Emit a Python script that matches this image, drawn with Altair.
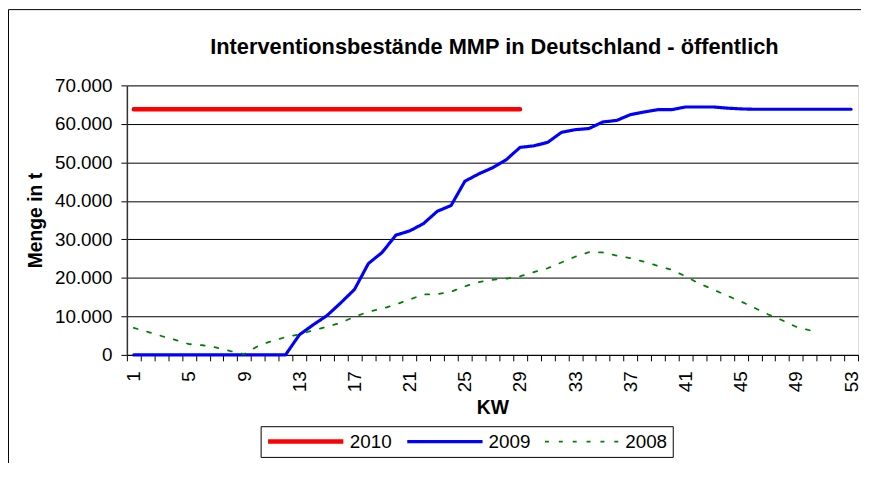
import altair as alt
import pandas as pd

FONT = "Liberation Sans"

kw = list(range(1, 54))
series_order = ["2010", "2009", "2008"]
title_text = "Interventionsbestände MMP in Deutschland - öffentlich"

v2010 = [63800, 63800, 63800, 63800, 63800, 63800, 63800, 63800, 63800, 63800,
         63800, 63800, 63800, 63800, 63800, 63800, 63800, 63800, 63800, 63800,
         63800, 63800, 63800, 63800, 63800, 63800, 63800, 63800, 63800]

v2009 = [0, 0, 0, 0, 0, 0, 0, 0, 0, 0,
         0, 0, 5200, 7800, 10200, 13500, 17000, 23700, 26600, 31100,
         32200, 34100, 37300, 38800, 45100, 47000, 48600, 50700, 53900, 54300,
         55200, 57800, 58500, 58800, 60500, 60900, 62400, 63100, 63700, 63700,
         64400, 64400, 64400, 64100, 63900, 63800, 63800, 63800, 63800, 63800,
         63800, 63800, 63800]

v2008 = [7000, 6000, 4900, 3900, 2800, 2500, 1900, 1000, 200, 2300,
         3600, 4600, 5300, 6400, 7300, 8350, 9900, 11200, 12000, 13100,
         14400, 15700, 15800, 16400, 17800, 18900, 19500, 19800, 20400, 21500,
         22500, 24000, 25500, 26700, 26600, 25800, 25100, 24200, 23100, 22100,
         20400, 18500, 17000, 15400, 13900, 12200, 10500, 9000, 7300, 6400]

y_ticks = [0, 10000, 20000, 30000, 40000, 50000, 60000, 70000]
x_label_every = 4

rows = []
for name, vals in (("2010", v2010), ("2009", v2009), ("2008", v2008)):
    for k, v in zip(kw, vals):
        rows.append({"KW": k, "Menge": v, "Serie": name})
df = pd.DataFrame(rows)

PL, PT = 120, 76
W, H = 738, 272
half_steps = [k - 0.5 for k in kw] + [kw[-1] + 0.5]

legend = alt.Legend(
    orient="none", legendX=263 - 8 - PL, legendY=428 - 8 - PT, direction="horizontal",
    title=None, strokeColor="black", fillColor="white",
    padding=5, labelFontSize=19, labelFont=FONT, labelColor="black",
    symbolType="stroke", symbolSize=5776, clipHeight=21,
    labelOffset=4, columnPadding=13,
)

lines = alt.Chart(df).mark_line(strokeCap="round", clip=False).encode(
    x=alt.X("KW:Q",
            scale=alt.Scale(domain=[0.5, 53.5], nice=False, zero=False),
            axis=alt.Axis(
                values=half_steps, title="KW", grid=False,
                labelExpr=f"((datum.value + 0.5 - 1) % {x_label_every} == 0 && datum.value < 53) ? toString(datum.value + 0.5) : ''",
                labelAngle=270, labelOffset=W / 53 / 2, labelPadding=10,
                labelFontSize=19, labelFont=FONT, labelColor="black",
                tickSize=6, tickColor="black", domainColor="black", domainWidth=1,
                titleFontSize=19.5, titleFont=FONT, titleFontWeight="bold", titleColor="black",
                titlePadding=7, labelOverlap=False, labelBound=False, labelFlush=False,
            )),
    y=alt.Y("Menge:Q",
            scale=alt.Scale(domain=[0, 70000], nice=False),
            axis=alt.Axis(
                values=y_ticks, title="Menge in t",
                labelExpr="replace(format(datum.value, ','), /,/g, '.')",
                labelFontSize=19, labelFont=FONT, labelColor="black", labelPadding=9,
                tickSize=6, tickColor="black", domainColor="#333333", domainWidth=1.5,
                grid=True, gridColor="black", gridWidth=1,
                titleFontSize=19.5, titleFont=FONT, titleFontWeight="bold", titleColor="black",
                titlePadding=9,
            )),
    color=alt.Color("Serie:N",
                    scale=alt.Scale(domain=series_order, range=["#FF0000", "#0000FF", "#008000"]),
                    legend=legend),
    strokeDash=alt.StrokeDash("Serie:N",
                              scale=alt.Scale(domain=series_order, range=[[1, 0], [1, 0], [4, 10]]),
                              legend=legend),
    strokeWidth=alt.StrokeWidth("Serie:N",
                                scale=alt.Scale(domain=series_order, range=[4.5, 1.8, 2.6]),
                                legend=legend),
    order="KW:Q",
)

one = pd.DataFrame({"a": [0]})
border_left = alt.Chart(one).mark_rule(color="black", strokeWidth=1, clip=False).encode(
    x=alt.value(0.5 - PL), y=alt.value(-PT - 0.5), y2=alt.value(H + 300),
)
border_top = alt.Chart(one).mark_rule(color="black", strokeWidth=1, clip=False).encode(
    y=alt.value(-PT - 0.5), x=alt.value(0.5 - PL), x2=alt.value(W + 300),
)

title = alt.Chart(pd.DataFrame({"t": [title_text]})).mark_text(
    font=FONT, fontSize=22, fontWeight="bold", color="black",
    align="center", baseline="alphabetic", clip=False,
).encode(
    text="t:N", x=alt.value(499 - 8 - PL), y=alt.value(52 - 8 - PT),
)

chart = alt.layer(border_left, border_top, title, lines).properties(
    width=W, height=H,
    autosize=alt.AutoSizeParams(type="none"),
    padding={"left": PL, "top": PT, "right": 3, "bottom": 107},
).configure_view(
    stroke="#808080", strokeWidth=2
).configure(
    font=FONT, background="white"
)

chart.save("out.html", embed_options={"renderer": "svg", "actions": False})
